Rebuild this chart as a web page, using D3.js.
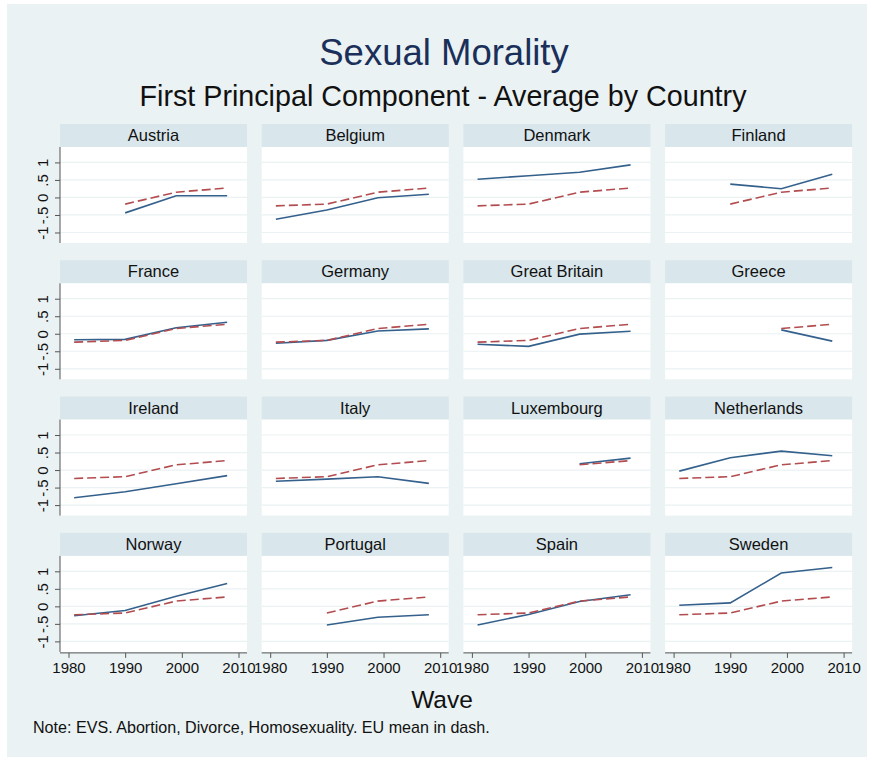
<!DOCTYPE html>
<html>
<head>
<meta charset="utf-8">
<script src="https://cdn.jsdelivr.net/npm/d3@7"></script>
<style>
  html, body { margin: 0; padding: 0; background: #fff; }
  text { font-family: "Liberation Sans", Arial, sans-serif; }
</style>
</head>
<body>
<div id="chart"></div>
<script>
// EVS waves
const waves = [1981, 1990, 1999, 2008];
const xTicks = [1980, 1990, 2000, 2010];
const yTicks = [-1, -0.5, 0, 0.5, 1];
const yTickLabels = ["-1", "-.5", "0", ".5", "1"];

const countries = ["Austria", "Belgium", "Denmark", "Finland",
    "France", "Germany", "Great Britain", "Greece",
    "Ireland", "Italy", "Luxembourg", "Netherlands",
    "Norway", "Portugal", "Spain", "Sweden"];

// country average, one value per wave (null = not surveyed)
const scores = [
    [null, -0.44, 0.05, 0.05],
    [-0.62, -0.36, -0.01, 0.09],
    [0.52, 0.62, 0.72, 0.93],
    [null, 0.38, 0.25, 0.66],
    [-0.17, -0.16, 0.17, 0.33],
    [-0.27, -0.19, 0.08, 0.14],
    [-0.30, -0.36, -0.01, 0.07],
    [null, null, 0.11, -0.21],
    [-0.79, -0.62, -0.39, -0.16],
    [-0.32, -0.26, -0.19, -0.38],
    [null, null, 0.18, 0.34],
    [-0.03, 0.35, 0.54, 0.41],
    [-0.27, -0.12, 0.29, 0.65],
    [null, -0.53, -0.31, -0.24],
    [-0.53, -0.23, 0.14, 0.33],
    [0.03, 0.10, 0.95, 1.11]
];

// EU mean (dashed)
const euMean = [-0.24, -0.19, 0.15, 0.27];

const width = 872, height = 762;
const nCols = 4;
const panelW = 187, colStep = 201.7, left0 = 60;
const rowStep = 136.3, top0 = 124;
const headerH = 23, plotH = 96;

const svg = d3.select("#chart").append("svg")
    .attr("width", width)
    .attr("height", height);

svg.append("rect")
    .attr("x", 7).attr("y", 4)
    .attr("width", 860).attr("height", 753)
    .attr("fill", "#eaf2f3");

// titles
svg.append("text")
    .attr("x", 444).attr("y", 65)
    .attr("text-anchor", "middle")
    .attr("font-size", 36.5)
    .attr("fill", "#1a2f5a")
    .text("Sexual Morality");

svg.append("text")
    .attr("x", 443).attr("y", 106)
    .attr("text-anchor", "middle")
    .attr("font-size", 28.7)
    .attr("fill", "#111")
    .text("First Principal Component - Average by Country");

const x = d3.scaleLinear().domain([1978.5, 2011.5]).range([0, panelW]);
const y = d3.scaleLinear().domain([-1.3, 1.44]).range([plotH, 0]);

const line = d3.line()
    .defined(d => d.v !== null)
    .x(d => x(d.year))
    .y(d => y(d.v));

const nRows = Math.ceil(countries.length / nCols);

countries.forEach((name, i) => {
    const col = i % nCols, row = Math.floor(i / nCols);
    const g = svg.append("g")
        .attr("transform", `translate(${left0 + col * colStep},${top0 + row * rowStep})`);

    // header strip
    g.append("rect")
        .attr("width", panelW).attr("height", headerH)
        .attr("fill", "#d9e6eb");
    g.append("text")
        .attr("x", panelW / 2).attr("y", 17)
        .attr("text-anchor", "middle")
        .attr("font-size", 16.5)
        .attr("fill", "#111")
        .text(name);

    const p = g.append("g").attr("transform", `translate(0,${headerH})`);
    p.append("rect")
        .attr("width", panelW).attr("height", plotH)
        .attr("fill", "#fff");

    // grid
    p.selectAll("line.grid")
        .data(yTicks)
        .join("line")
        .attr("class", "grid")
        .attr("x1", 0).attr("x2", panelW)
        .attr("y1", d => y(d)).attr("y2", d => y(d))
        .attr("stroke", "#eaf2f3")
        .attr("stroke-width", 1.2);

    const own = scores[i];
    const countryData = waves.map((w, k) => ({ year: w, v: own[k] }));
    const euData = waves.map((w, k) => ({ year: w, v: own[k] === null ? null : euMean[k] }));

    p.append("path")
        .datum(countryData)
        .attr("d", line)
        .attr("fill", "none")
        .attr("stroke", "#34608c")
        .attr("stroke-width", 1.6);

    p.append("path")
        .datum(euData)
        .attr("d", line)
        .attr("fill", "none")
        .attr("stroke", "#b24c4f")
        .attr("stroke-width", 1.6)
        .attr("stroke-dasharray", "9,4");

    if (col === 0) {
        const ya = p.append("g")
            .call(d3.axisLeft(y).tickValues(yTicks).tickSize(5).tickFormat(""));
        ya.select(".domain").attr("stroke", "#555").attr("d", `M0,0V${plotH}`);
        ya.selectAll(".tick line").attr("stroke", "#555");
        ya.selectAll(".tick").append("text")
            .attr("transform", "translate(-12,0) rotate(-90)")
            .attr("text-anchor", "middle")
            .attr("font-size", 15)
            .attr("fill", "#111")
            .attr("stroke", "none")
            .text((d, k) => yTickLabels[k]);
    }

    if (row === nRows - 1) {
        const xa = p.append("g")
            .attr("transform", `translate(0,${plotH + 1})`)
            .call(d3.axisBottom(x).tickValues(xTicks).tickSize(5).tickFormat(d3.format("d")));
        xa.select(".domain").attr("stroke", "#555").attr("d", `M0,0H${panelW}`);
        xa.selectAll(".tick line").attr("stroke", "#555");
        xa.selectAll(".tick text")
            .attr("font-size", 15)
            .attr("font-family", "\"Liberation Sans\", Arial, sans-serif")
            .attr("fill", "#111")
            .attr("y", 9);
    }
});

svg.append("text")
    .attr("x", 442).attr("y", 708)
    .attr("text-anchor", "middle")
    .attr("font-size", 24.5)
    .attr("fill", "#111")
    .text("Wave");

svg.append("text")
    .attr("x", 33).attr("y", 733)
    .attr("font-size", 16.1)
    .attr("fill", "#111")
    .text("Note: EVS. Abortion, Divorce, Homosexuality. EU mean in dash.");
</script>
</body>
</html>
